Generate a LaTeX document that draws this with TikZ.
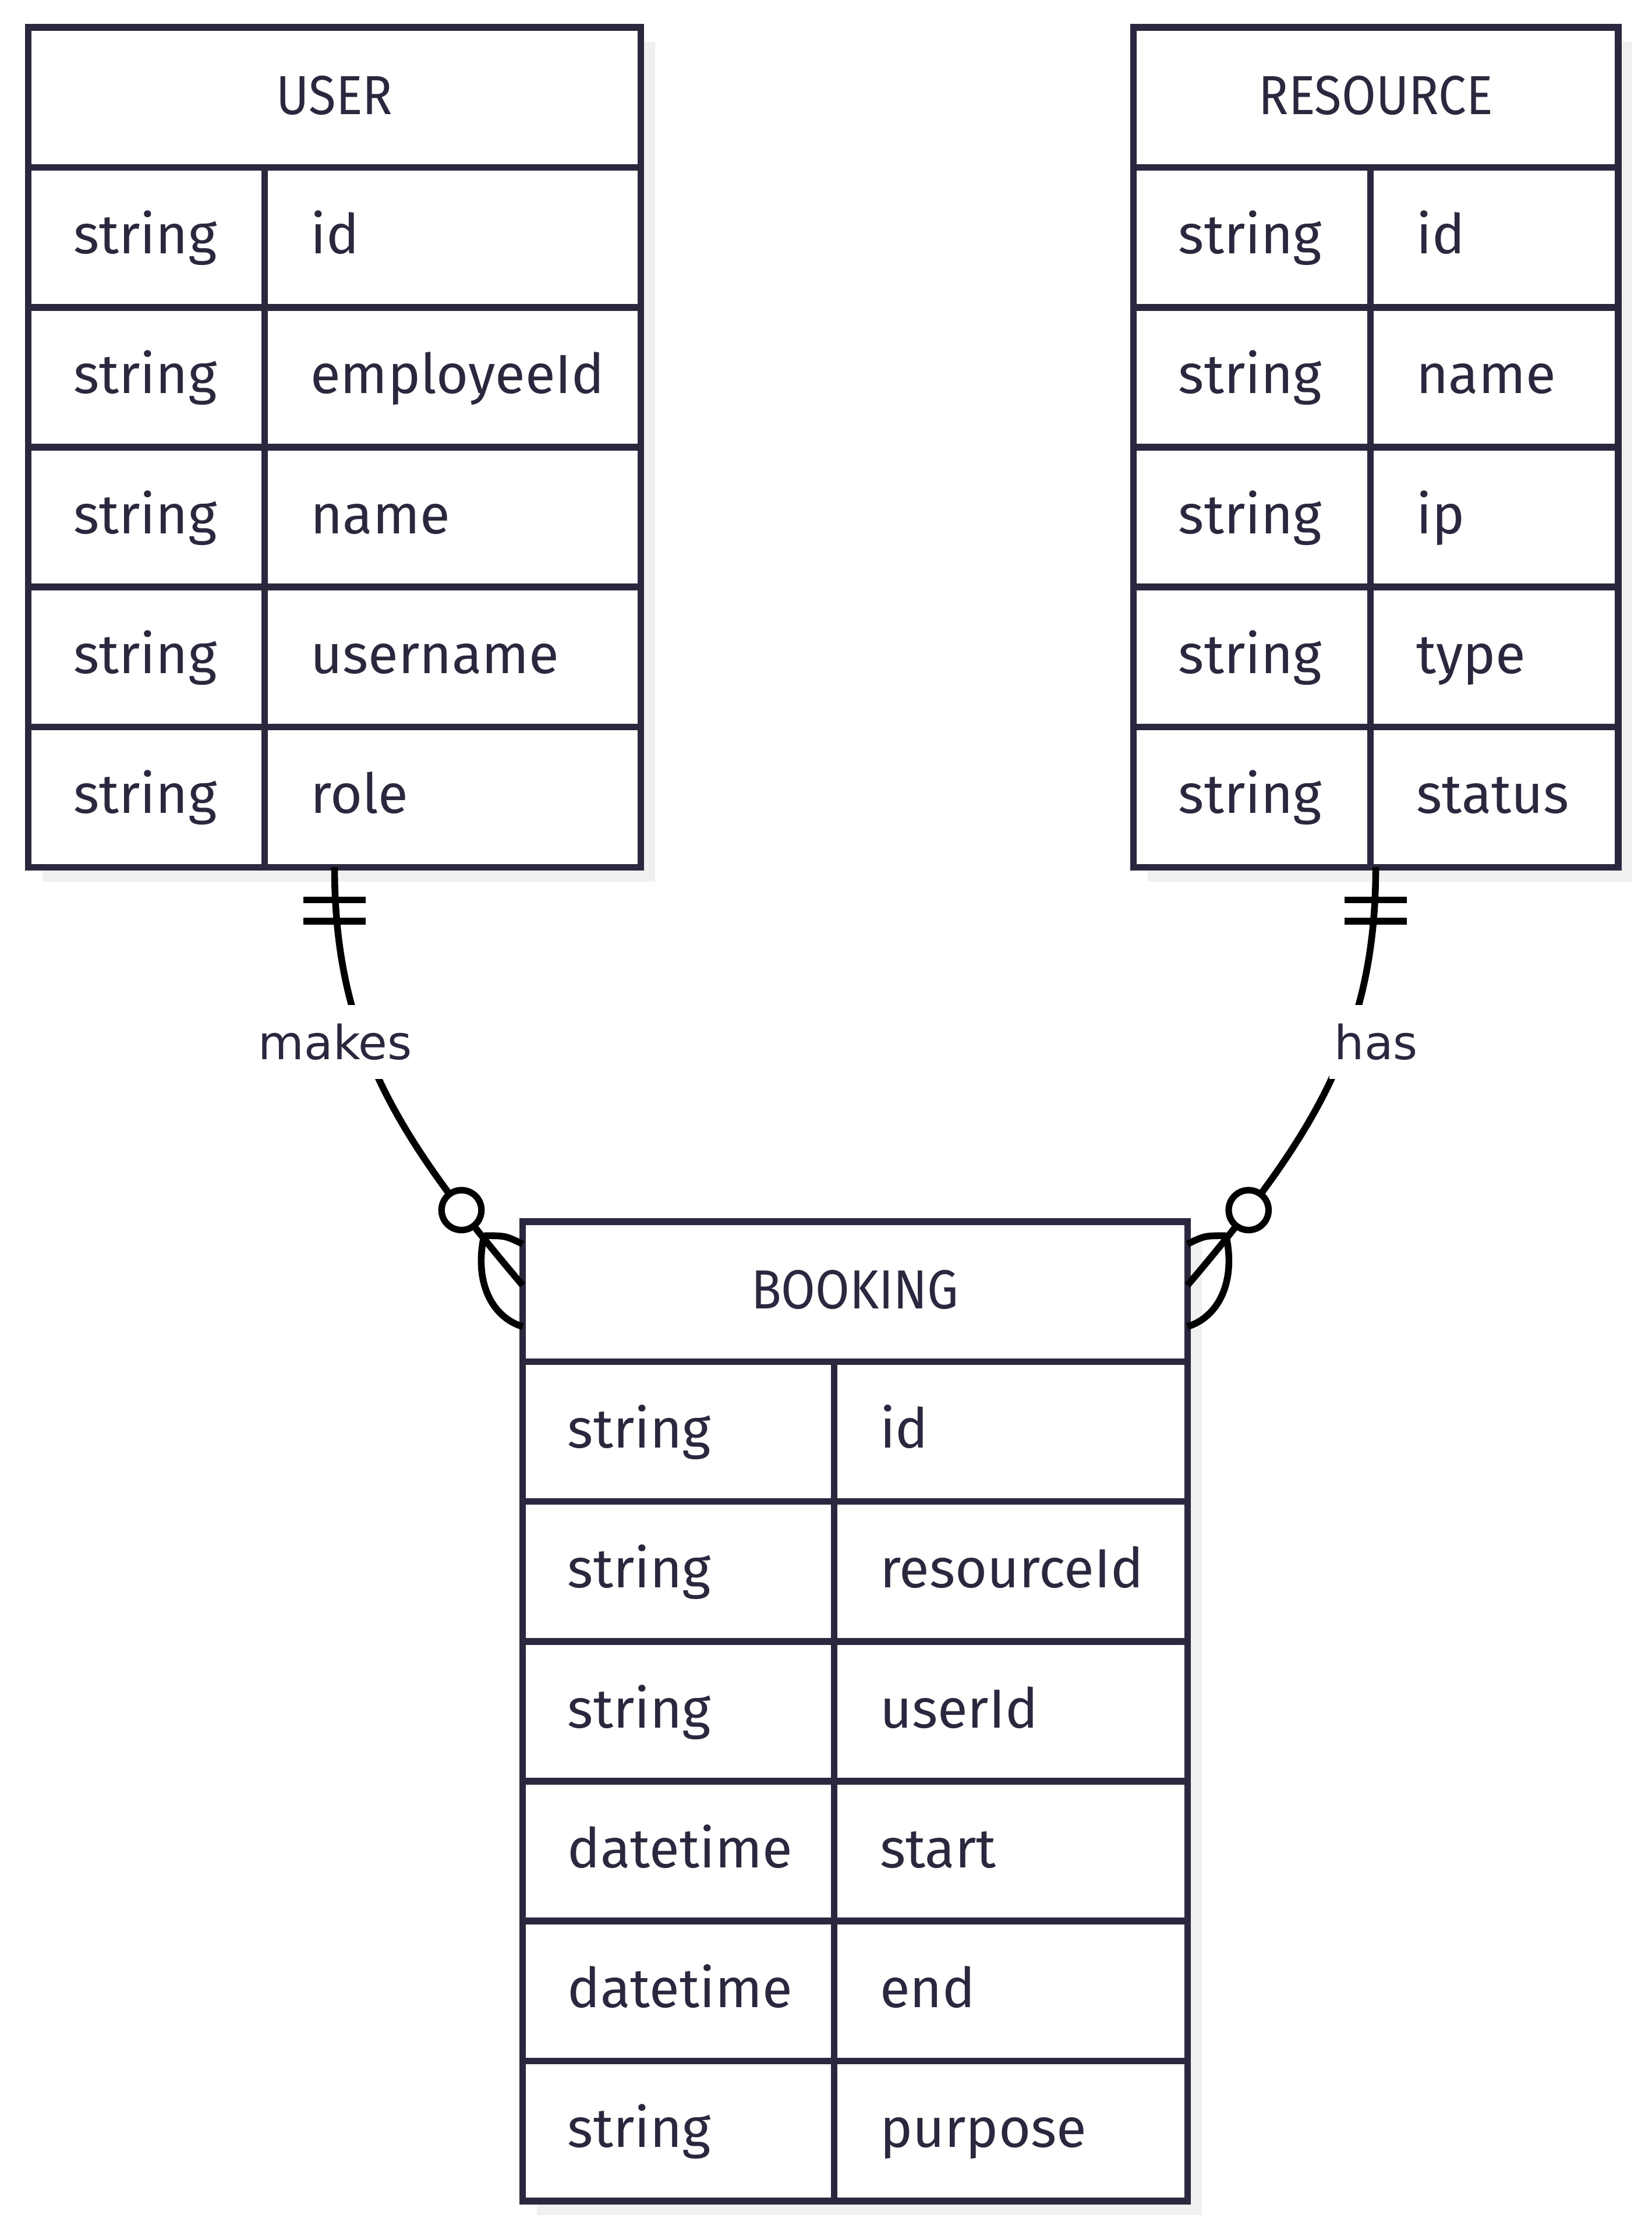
\documentclass[tikz,border=0pt]{standalone}
\usepackage{fontspec}
\setmainfont{Fira Sans}
\newfontfamily\headfont[FakeStretch=0.9]{Fira Sans}
\newfontfamily\labelfont{DejaVu Sans}
\usetikzlibrary{shadows}
\definecolor{erline}{RGB}{42,40,62}
\definecolor{shgray}{RGB}{240,240,240}
\tikzset{
  entity/.style={draw=erline, line width=1.35pt, fill=white, outer sep=0pt, inner sep=0pt,
    drop shadow={shadow xshift=0.1cm, shadow yshift=-0.1cm, fill=shgray, opacity=1}},
  rowline/.style={draw=erline, line width=1.35pt},
  attr/.style={anchor=base west, inner sep=0pt, text=erline, font=\fontsize{11pt}{13pt}\selectfont},
  head/.style={anchor=base, inner sep=0pt, text=erline, font=\headfont\fontsize{11pt}{13pt}\selectfont},
  rel/.style={draw=black, line width=1.35pt},
  rellabel/.style={fill=white, inner xsep=1pt, inner ysep=0pt, minimum height=0.52cm,
    text=erline, font=\labelfont\fontsize{9.4pt}{11pt}\selectfont},
  zeromark/.style={circle, draw=black, fill=white, line width=1.3pt, minimum size=0.28cm, inner sep=0pt}
}
\begin{document}
\begin{tikzpicture}[x=0.01cm, y=-0.01cm]
    \useasboundingbox (0,0) rectangle (1160,1570.66);
    % entities
    \node[entity, minimum width=4.3cm, minimum height=5.895cm] (user) at (235,314.25) {};
    \node[entity, minimum width=3.403cm, minimum height=5.895cm] (resource) at (966.35,314.25) {};
    \node[entity, minimum width=4.668cm, minimum height=6.874cm] (booking) at (600.6,1202.1) {};
    \foreach \e/\rows/\c in {user/5/1.66cm, resource/5/1.665cm, booking/6/2.187cm} {
        \foreach \i in {1,...,\rows}
            \draw[rowline] ([yshift=-\i*0.982cm]\e.north west) -- ([yshift=-\i*0.982cm]\e.north east);
        \draw[rowline] ([shift={(\c,-0.982cm)}]\e.north west) -- ([xshift=\c]\e.south west);
    }
    % headers
    \node[head] (user-h) at ([yshift=-0.611cm]user.north) {USER};
    \node[head] (resource-h) at ([yshift=-0.611cm]resource.north) {RESOURCE};
    \node[head] (booking-h) at ([yshift=-0.611cm]booking.north) {BOOKING};
    % attributes
    \foreach \t/\a [count=\i] in {string/id, string/employeeId, string/name, string/username, string/role} {
        \node[attr] (user-t\i) at ([shift={(0.31cm,{-(\i*0.982+0.606)*1cm})}]user.north west) {\t};
        \node[attr] (user-a\i) at ([shift={(1.975cm,{-(\i*0.982+0.606)*1cm})}]user.north west) {\a};
    }
    \foreach \t/\a [count=\i] in {string/id, string/name, string/ip, string/type, string/status} {
        \node[attr] (resource-t\i) at ([shift={(0.31cm,{-(\i*0.982+0.606)*1cm})}]resource.north west) {\t};
        \node[attr] (resource-a\i) at ([shift={(1.98cm,{-(\i*0.982+0.606)*1cm})}]resource.north west) {\a};
    }
    \foreach \t/\a [count=\i] in {string/id, string/resourceId, string/userId, datetime/start, datetime/end, string/purpose} {
        \node[attr] (booking-t\i) at ([shift={(0.31cm,{-(\i*0.982+0.606)*1cm})}]booking.north west) {\t};
        \node[attr] (booking-a\i) at ([shift={(2.502cm,{-(\i*0.982+0.606)*1cm})}]booking.north west) {\a};
    }
    % relationships
    \coordinate (bkL) at ([yshift=-0.446cm]booking.north west);
    \coordinate (bkLu) at ([yshift=-0.156cm]booking.north west);
    \coordinate (bkLd) at ([yshift=-0.736cm]booking.north west);
    \coordinate (bkR) at ([yshift=-0.446cm]booking.north east);
    \coordinate (bkRu) at ([yshift=-0.156cm]booking.north east);
    \coordinate (bkRd) at ([yshift=-0.736cm]booking.north east);
    \coordinate (makes-f) at (340,868);
    \coordinate (has-f) at (861.2,868);
    \draw[rel] (user.south) .. controls +(0,121) and (280,800) .. (bkL) node[zeromark, pos=0.82] (makes-o) {};
    \draw[rel] (resource.south) .. controls +(0,121) and (921.2,800) .. (bkR) node[zeromark, pos=0.82] (has-o) {};
    \draw[rel] (makes-f) .. controls (355,868) .. (bkLu);
    \draw[rel] (makes-f) .. controls (333,900) and (345,925) .. (bkLd);
    \draw[rel] (has-f) .. controls (846.2,868) .. (bkRu);
    \draw[rel] (has-f) .. controls (868.2,900) and (856.2,925) .. (bkRd);
    \foreach \e in {user, resource}
        \foreach \d in {0.23cm, 0.38cm}
            \draw[rel] ([shift={(-0.22cm,-\d)}]\e.south) -- ([shift={(0.22cm,-\d)}]\e.south);
    \node[rellabel] (makes) at (235.5,732) {makes};
    \node[rellabel] (has) at (966.6,732) {has};
\end{tikzpicture}
\end{document}
